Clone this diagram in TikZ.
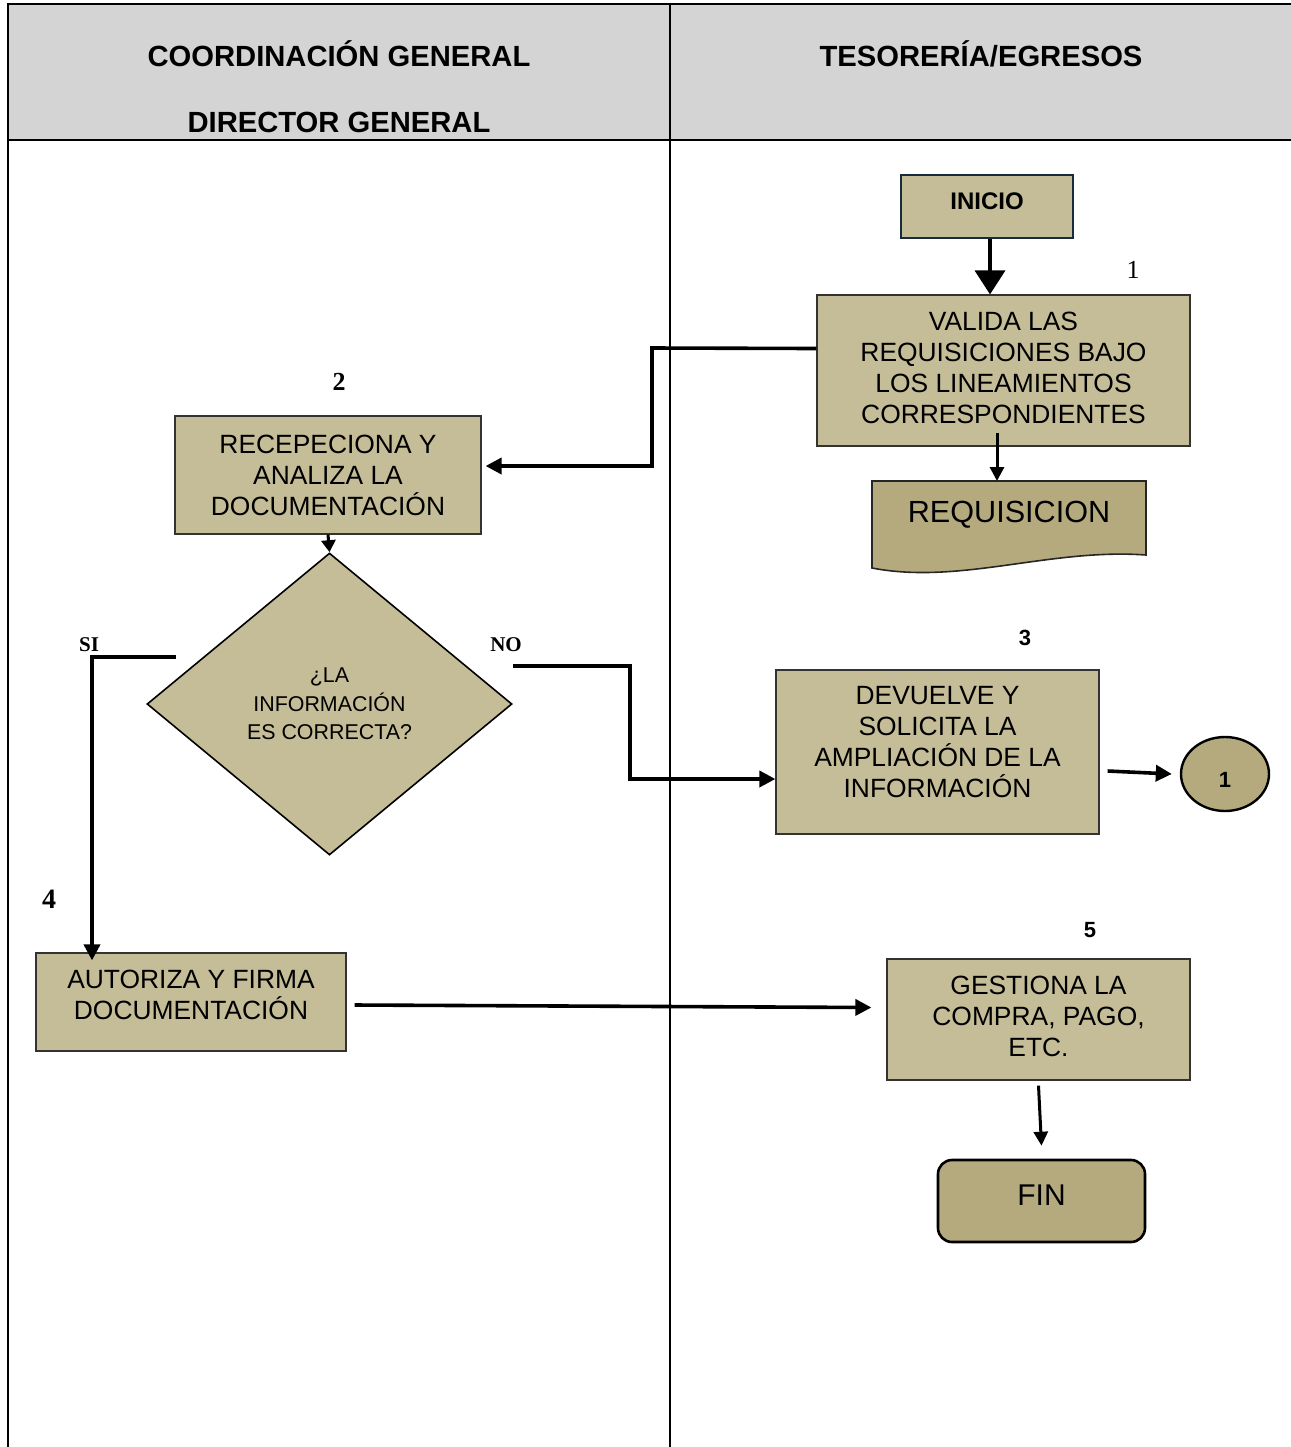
\documentclass[tikz,border=0pt]{standalone}
\usepackage{fontspec}
\setmainfont{Liberation Sans}
\newfontfamily\cifraserif{Liberation Serif}
\usetikzlibrary{arrows.meta,shapes.geometric,positioning}

\definecolor{tanclaro}{RGB}{196,189,151}
\definecolor{tanoscuro}{RGB}{181,170,126}
\definecolor{grisencab}{RGB}{212,212,212}
\definecolor{azulborde}{RGB}{23,43,60}

\tikzset{
  proceso/.style={draw=black!80, fill=tanclaro, line width=0.6pt, align=center, inner sep=0pt,
    font=\fontsize{13.2}{15.5}\selectfont},
  encabezado/.style={font=\bfseries\fontsize{14.6}{16}\selectfont},
  flecha/.style={line width=1.8pt, -{Triangle[length=8pt,width=8pt]}},
  numserif/.style={font=\cifraserif\bfseries\fontsize{13}{15}\selectfont},
  numsans/.style={font=\bfseries\fontsize{11}{13}\selectfont},
}

\begin{document}
\begin{tikzpicture}[x=0.5pt, y=-0.5pt]
\useasboundingbox (0,0) rectangle (1291,1447);
% carriles
\fill[grisencab] (8,4) rectangle (1291,140);
\draw[line width=1pt] (1291,4) -- (8,4) -- (8,1447);
\draw[line width=1pt] (8,140) -- (1291,140);
\draw[line width=1pt] (670,4) -- (670,1447);
\node[encabezado] (coordinacion) at (339,54) {COORDINACIÓN GENERAL};
\node[encabezado] (director) at (339,122) {DIRECTOR GENERAL};
\node[encabezado] (tesoreria) at (981,54) {TESORERÍA/EGRESOS};

% inicio y paso 1
\node[draw=azulborde, fill=tanclaro, line width=1pt, minimum width=86pt, minimum height=31.5pt,
  text depth=5pt, font=\bfseries\fontsize{12}{14}\selectfont] (inicio) at (987,206.5) {INICIO};
\node[proceso, minimum width=186.5pt, minimum height=75.5pt] (valida) at (1003.5,370.5)
  {VALIDA LAS\\REQUISICIONES BAJO\\LOS LINEAMIENTOS\\CORRESPONDIENTES\\[-12.5pt]};
\draw[line width=1.8pt, -{Triangle[length=12pt,width=15pt]}] ([xshift=1.5pt]inicio.south) -- ([xshift=1.5pt]inicio.south |- valida.north);
\node[font=\cifraserif\fontsize{13}{15}\selectfont] (num1) at (1133,270) {1};

% documento
\draw[fill=tanoscuro, draw=black!85, line width=0.8pt] (872,481) -- (1146,481) -- (1146,555)
  .. controls (1050,548) and (960,585) .. (872,568) -- cycle;
\node[font=\fontsize{15.3}{18}\selectfont] (requisicion) at (1009,515) {REQUISICION};
\coordinate (reqtop) at (997,481);
\draw[line width=1.5pt, -{Triangle[length=7pt,width=7pt]}] ([xshift=-3.25pt,yshift=7pt]valida.south) -- (reqtop);

% paso 2
\node[numserif] (num2) at (339,382) {2};
\node[proceso, minimum width=153pt, minimum height=59pt] (recepciona) at (328,475)
  {RECEPECIONA Y\\ANALIZA LA\\DOCUMENTACIÓN};
\draw[flecha] ([yshift=11pt]valida.west) -- (652,348) -- (652,466) -- ([xshift=2pt,yshift=4.5pt]recepciona.east);

% decision
\node[diamond, draw=black, fill=tanclaro, line width=0.8pt, minimum width=182.5pt, minimum height=151pt,
  inner sep=0pt, align=center, font=\fontsize{10.7}{14.3}\selectfont] (decision) at (329.5,704)
  {¿LA\\INFORMACIÓN\\ES CORRECTA?};
\draw[line width=1.5pt, -{Triangle[length=6pt,width=7pt]}] (recepciona.south) -- (decision.north);
\node[font=\cifraserif\bfseries\fontsize{10.5}{12}\selectfont] (si) at (89,645) {SI};
\node[font=\cifraserif\bfseries\fontsize{10.5}{12}\selectfont] (no) at (506,645) {NO};
\coordinate (salidasi) at (176,657);
\coordinate (salidano) at (513,666);

% paso 3
\node[numsans] (num3) at (1025,638) {3};
\node[proceso, minimum width=161.5pt, minimum height=82pt] (devuelve) at (937.5,752)
  {DEVUELVE Y\\SOLICITA LA\\AMPLIACIÓN DE LA\\INFORMACIÓN\\[-5pt]};
\node[ellipse, draw=black, fill=tanoscuro, line width=1.2pt, minimum width=44pt, minimum height=37pt,
  text height=13.9pt, font=\bfseries\fontsize{11}{13}\selectfont] (conector) at (1225,774) {1};
\draw[flecha] (salidano) -- (630,666) -- (630,779) -- (devuelve.west |- 0,779);
\draw[flecha] ([xshift=4pt,yshift=-9.5pt]devuelve.east) -- ([xshift=-4pt]conector.west);

% paso 4
\node[numserif, font=\cifraserif\bfseries\fontsize{14}{16}\selectfont] (num4) at (49,899) {4};
\node[proceso, minimum width=155pt, minimum height=49pt] (autoriza) at (191,1002)
  {AUTORIZA Y FIRMA\\DOCUMENTACIÓN\\[-8.5pt]};
\draw[flecha] (salidasi) -| ([yshift=-4pt]autoriza.north -| 92,0);

% paso 5
\node[numsans] (num5) at (1090,930) {5};
\node[proceso, minimum width=151.5pt, minimum height=60.5pt] (gestiona) at (1038.5,1019.5)
  {GESTIONA LA\\COMPRA, PAGO,\\ETC.\\[-12pt]};
\draw[flecha] ([xshift=4pt,yshift=-1.5pt]autoriza.east) -- ([xshift=-7.5pt,yshift=6pt]gestiona.west);
\node[draw=black, fill=tanoscuro, line width=1.3pt, rounded corners=7pt, minimum width=103.5pt,
  minimum height=41pt, text depth=6pt, font=\fontsize{15}{18}\selectfont] (fin) at (1041.5,1201) {FIN};
\draw[line width=1.5pt, -{Triangle[length=7pt,width=7pt]}] ([yshift=-2.5pt]gestiona.south) -- ([yshift=6.5pt]fin.north);
\end{tikzpicture}
\end{document}
